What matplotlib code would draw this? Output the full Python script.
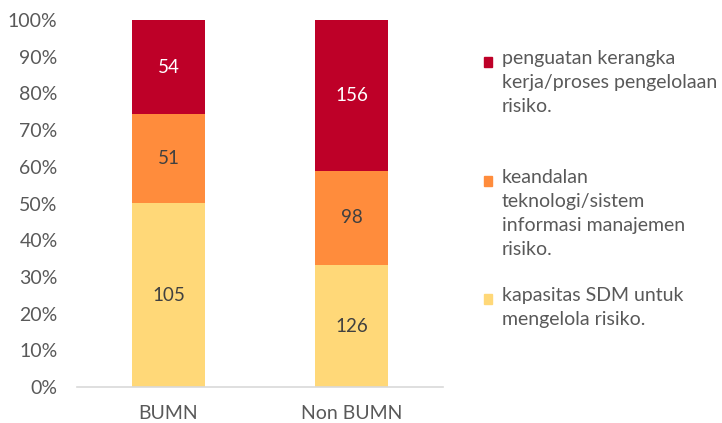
import numpy as np
import matplotlib
matplotlib.use('Agg')
import matplotlib.pyplot as plt
from matplotlib.patches import Rectangle

plt.rcParams['font.family'] = ['Lato', 'DejaVu Sans']

categories = ['BUMN', 'Non BUMN']
series_names = [
    'kapasitas SDM untuk\nmengelola risiko.',
    'keandalan\nteknologi/sistem\ninformasi manajemen\nrisiko.',
    'penguatan kerangka\nkerja/proses pengelolaan\nrisiko.',
]
sdm       = [105, 126]
teknologi = [51, 98]
kerangka  = [54, 156]

colors = ['#FFD878', '#FF8C3C', '#BE0028']
label_colors = ['#404040', '#404040', '#FFFFFF']
grey = '#595959'

values = np.array([sdm, teknologi, kerangka], dtype=float)
totals = values.sum(axis=0)
shares = values / totals

fig = plt.figure(figsize=(7.22, 4.23), dpi=100)
ax = fig.add_axes([77 / 722, 1 - 387 / 423, 366 / 722, 367 / 423])

x = np.arange(len(categories))
bottom = np.zeros(len(categories))
for i in range(len(values)):
    bars = ax.bar(x, shares[i], 0.4, bottom=bottom, color=colors[i], linewidth=0)
    for j, b in enumerate(bars):
        ax.text(b.get_x() + b.get_width() / 2, bottom[j] + shares[i][j] / 2,
                f'{int(values[i][j])}', ha='center', va='center',
                fontsize=13.5, color=label_colors[i])
    bottom += shares[i]

ax.set_xlim(-0.5, 1.5)
ax.set_ylim(0, 1)
ax.set_yticks(np.arange(0, 1.01, 0.1))
ax.set_yticklabels([f'{int(round(v * 100))}%' for v in np.arange(0, 1.01, 0.1)])
ax.set_xticks(x)
ax.set_xticklabels(categories)
ax.tick_params(axis='both', length=0, labelsize=14, colors=grey)
ax.tick_params(axis='x', pad=13)
ax.tick_params(axis='y', pad=14)
for s in ['top', 'right', 'left']:
    ax.spines[s].set_visible(False)
ax.spines['bottom'].set_color('#D9D9D9')
ax.spines['bottom'].set_linewidth(1.2)

# legend, entries listed top to bottom as in the original
legend_tops = [62, 181, 299]
for k, top in zip([2, 1, 0], legend_tops):
    fig.patches.append(Rectangle((484 / 722, 1 - (top + 5) / 423), 8 / 722, 10 / 423,
                                 transform=fig.transFigure, color=colors[k]))
    fig.text(502 / 722, 1 - (top - 12) / 423, series_names[k], ha='left', va='top',
             fontsize=14, color=grey, linespacing=1.5)

fig.savefig('out.png', dpi=100)
